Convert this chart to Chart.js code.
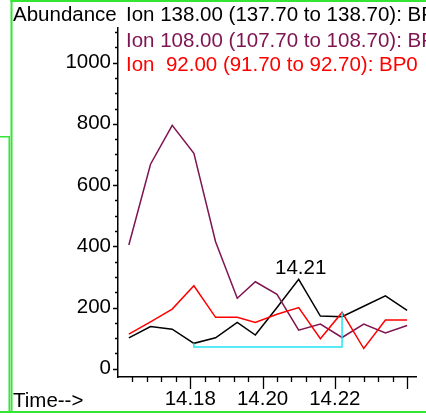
<!DOCTYPE html>
<html>
<head>
<meta charset="utf-8">
<script src="https://cdn.jsdelivr.net/npm/chart.js@4.4.1/dist/chart.umd.min.js"></script>
<style>
  html, body { margin: 0; padding: 0; background: #fff; }
  #wrap { position: relative; width: 426px; height: 415px; }
</style>
</head>
<body>
<div id="wrap"><canvas id="tic"></canvas></div>
<script>
// retention times (min) and abundances
const times = [14.163, 14.169, 14.175, 14.181, 14.187, 14.193, 14.198, 14.204, 14.210, 14.216, 14.222, 14.228, 14.234, 14.240];
const ion138 = [101, 138, 129, 83, 101, 151, 110, 200, 292, 172, 170, 204, 238, 191];
const ion108 = [404, 668, 795, 704, 415, 230, 284, 243, 126, 146, 102, 146, 117, 141];
const ion92 = [113, 153, 195, 271, 168, 168, 151, 178, 200, 98, 184, 66, 159, 159];

// integration baseline
const baseTimes = [14.181, 14.181, 14.222, 14.222];
const baseValues = [83, 71, 71, 184];

const seriesNames = [
  'Ion 138.00 (137.70 to 138.70): BP0',
  'Ion 108.00 (107.70 to 108.70): BP0',
  'Ion  92.00 (91.70 to 92.70): BP0'
];
const seriesColors = ['#000000', '#7f1452', '#ff0000'];
const xLabels = [14.18, 14.20, 14.22];
const yLabels = [0, 200, 400, 600, 800, 1000];
const peakLabel = '14.21';

const FAMILY = '"Liberation Sans", Arial, sans-serif';
const SIZE = 20.5;
const FONT = SIZE + 'px ' + FAMILY;
const GREEN = '#33e633';

function pts(xs, ys) {
  return xs.map((t, i) => ({ x: t, y: ys[i] }));
}

function near(v, list) {
  return list.some(l => Math.abs(l - v) < 1e-6);
}

const frame = {
  id: 'frame',
  beforeDraw(chart) {
    const ctx = chart.ctx;
    ctx.save();
    ctx.fillStyle = GREEN;
    ctx.fillRect(10.5, 0, 2, 412);
    ctx.fillRect(10.5, 0, 416, 2);
    ctx.fillRect(0, 411, 426, 2);
    ctx.fillRect(0, 136, 10, 1.5);
    ctx.fillRect(8.5, 136, 1.5, 276);
    ctx.restore();
  }
};

const decorations = {
  id: 'decorations',
  afterDraw(chart) {
    const { ctx, scales: { x, y } } = chart;
    ctx.save();

    // tick marks, long for the labelled steps
    ctx.strokeStyle = '#000';
    ctx.lineWidth = 1.3;
    ctx.beginPath();
    x.ticks.forEach(t => {
      const px = Math.round(x.getPixelForValue(t.value)) + 0.5;
      const major = Math.abs(t.value * 50 - Math.round(t.value * 50)) < 1e-6;
      ctx.moveTo(px, x.top);
      ctx.lineTo(px, x.top + (major ? 12 : 5));
    });
    y.ticks.forEach(t => {
      const py = Math.round(y.getPixelForValue(t.value)) + 0.5;
      const major = t.value % 200 === 0;
      ctx.moveTo(y.right, py);
      ctx.lineTo(y.right - (major ? 5 : 3), py);
    });
    ctx.stroke();

    // header texts
    ctx.font = FONT;
    ctx.textAlign = 'left';
    ctx.textBaseline = 'alphabetic';
    ctx.fillStyle = '#000';
    ctx.fillText('Abundance', 13, 21);
    ctx.fillText('Time-->', 13, 407);
    const baselines = [21, 47, 71];
    seriesNames.forEach((name, i) => {
      ctx.fillStyle = seriesColors[i];
      ctx.fillText(name, 126, baselines[i]);
    });

    // peak annotation
    const top = ion138.indexOf(Math.max(...ion138));
    ctx.fillStyle = '#000';
    ctx.textAlign = 'center';
    ctx.fillText(peakLabel, x.getPixelForValue(times[top]) + 2, y.getPixelForValue(ion138[top]) - 5);
    ctx.restore();
  }
};

const line = (data, color) => ({
  data,
  borderColor: color,
  borderWidth: 1.5,
  pointRadius: 0,
  showLine: true,
  tension: 0,
  fill: false
});

new Chart(document.getElementById('tic'), {
  type: 'scatter',
  data: {
    datasets: [
      line(pts(baseTimes, baseValues), '#22e4f2'),
      line(pts(times, ion92), seriesColors[2]),
      line(pts(times, ion108), seriesColors[1]),
      line(pts(times, ion138), seriesColors[0])
    ]
  },
  options: {
    responsive: true,
    maintainAspectRatio: false,
    animation: false,
    layout: { padding: { top: 28, right: 9.5, left: 0, bottom: 0 } },
    plugins: { legend: { display: false }, tooltip: { enabled: false } },
    scales: {
      x: {
        type: 'linear',
        min: 14.16,
        max: 14.2426,
        afterBuildTicks(scale) {
          const ticks = [];
          for (let i = 1; i <= 20; i++) ticks.push({ value: +(14.16 + i * 0.004).toFixed(3) });
          scale.ticks = ticks;
        },
        afterFit(scale) { scale.height = 38; },
        grid: { display: true, drawOnChartArea: false, drawTicks: false },
        border: { display: true, color: '#000', width: 1.5 },
        ticks: {
          autoSkip: false,
          maxRotation: 0,
          padding: 10,
          color: '#000',
          font: { family: FAMILY, size: SIZE },
          callback: v => (near(v, xLabels) ? v.toFixed(2) : '')
        }
      },
      y: {
        min: -27,
        max: 1113,
        afterBuildTicks(scale) {
          const ticks = [];
          for (let v = 0; v <= 1100; v += 50) ticks.push({ value: v });
          scale.ticks = ticks;
        },
        afterFit(scale) { scale.width = 118; },
        grid: { display: true, drawOnChartArea: false, drawTicks: false },
        border: { display: true, color: '#000', width: 1.5 },
        ticks: {
          autoSkip: false,
          padding: 7,
          color: '#000',
          font: { family: FAMILY, size: SIZE },
          callback: v => (near(v, yLabels) ? String(v) : '')
        }
      }
    }
  },
  plugins: [frame, decorations]
});
</script>
</body>
</html>
